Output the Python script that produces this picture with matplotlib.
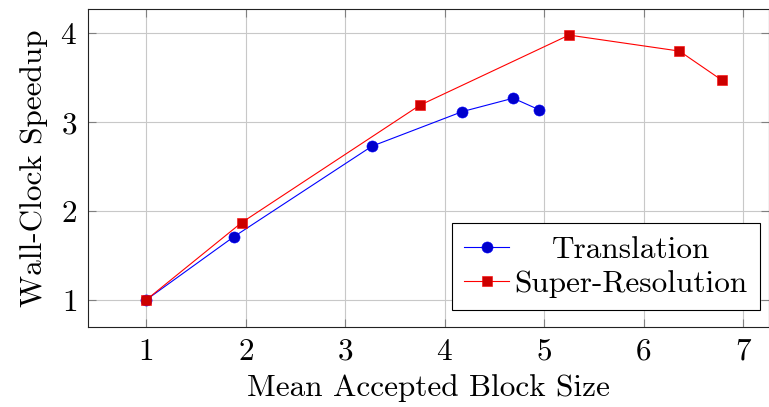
import matplotlib
matplotlib.use("Agg")
import matplotlib.pyplot as plt

# Data
trans_x = [1.0, 1.88, 3.27, 4.18, 4.69, 4.95]
trans_y = [1.0, 1.71, 2.73, 3.12, 3.27, 3.14]
sr_x = [1.0, 1.96, 3.75, 5.25, 6.36, 6.79]
sr_y = [1.0, 1.87, 3.19, 3.98, 3.80, 3.47]
x_ticks = [1, 2, 3, 4, 5, 6, 7]
y_ticks = [1, 2, 3, 4]
labels = ["Translation", "Super-Resolution"]

FS = 22.5
plt.rcParams['font.family'] = ['cmr10', 'DejaVu Serif']
plt.rcParams['mathtext.fontset'] = 'cm'
plt.rcParams['axes.formatter.use_mathtext'] = True
plt.rcParams['axes.unicode_minus'] = False

fig = plt.figure(figsize=(7.69, 4.07), dpi=100)
ax = fig.add_axes([88.3 / 769, 1 - 326.7 / 407, (769 - 88.3) / 769, (326.7 - 9.3) / 407])

ax.plot(trans_x, trans_y, color='#0000ff', lw=0.8, marker='o', markersize=8,
        markerfacecolor='#0000cc', markeredgecolor='#0000ff', markeredgewidth=0.4,
        label=labels[0], zorder=3)
ax.plot(sr_x, sr_y, color='#ff0000', lw=0.8, marker='s', markersize=7.2,
        markerfacecolor='#cc0000', markeredgecolor='#ff0000', markeredgewidth=0.4,
        label=labels[1], zorder=3)

ax.set_xlim(0.42, 7.26)
ax.set_ylim(0.70, 4.27)
ax.set_xticks(x_ticks)
ax.set_yticks(y_ticks)
ax.grid(True, color='#c8c8c8', lw=0.8)
ax.set_axisbelow(True)
ax.tick_params(direction='in', length=6, width=0.8, color='#808080',
               top=True, right=True, labelsize=FS, pad=8)
for s in ax.spines.values():
    s.set_color('#222222')
    s.set_linewidth(0.8)

ax.set_xlabel("Mean Accepted Block Size", fontsize=FS, labelpad=6)
ax.set_ylabel("Wall-Clock Speedup", fontsize=FS, labelpad=9)

leg = ax.legend(loc='lower right', bbox_to_anchor=(0.9865, 0.052), fontsize=FS,
                frameon=True, fancybox=False, edgecolor='black', framealpha=1,
                handlelength=1.45, handletextpad=0.15, borderpad=0.4,
                labelspacing=0.2, borderaxespad=0)
leg.get_frame().set_linewidth(0.8)

fig.canvas.draw()
texts = leg.get_texts()
r = fig.canvas.get_renderer()
w0 = texts[0].get_window_extent(r).width
w1 = texts[1].get_window_extent(r).width
texts[0].set_x((w1 - w0) / 2)

fig.savefig("out.png", dpi=100)
